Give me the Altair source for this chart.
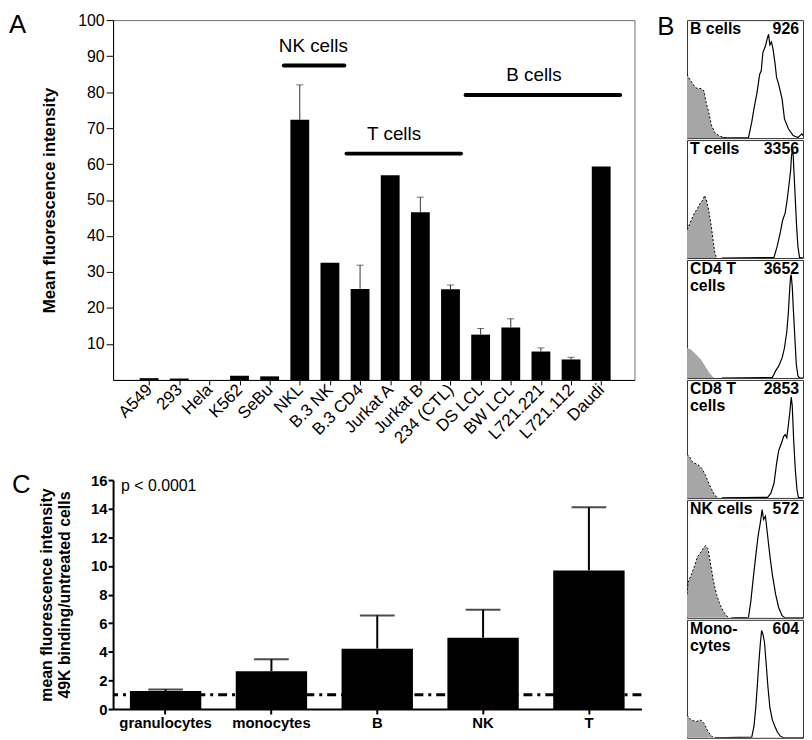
import json
import altair as alt
import pandas as pd

FONT = "Liberation Sans"

# ---------------- Panel A data ----------------
cell_lines = ["A549", "293", "Hela", "K562", "SeBu", "NKL", "B.3 NK", "B.3 CD4",
              "Jurkat A", "Jurkat B", "234 (CTL)", "DS LCL", "BW LCL",
              "L721.221", "L721.112", "Daudi"]
mfi = [0.5, 0.4, 0.0, 1.2, 1.0, 72.3, 32.6, 25.3, 56.9, 46.6, 25.2, 12.6, 14.6, 7.9, 5.7, 59.3]
mfi_err = [None, None, None, None, None, 82.0, None, 31.9, None, 50.8, 26.4, 14.3, 17.0, 8.9, 6.3, None]

group_labels = ["NK cells", "T cells", "B cells"]
group_start = [4.47, 6.55, 10.5]
group_end = [6.48, 10.35, 15.63]
group_level = [87.4, 62.9, 79.2]
group_label_at = [5.45, 8.13, 12.77]

# ---------------- Panel C data ----------------
pop_labels = ["granulocytes", "monocytes", "B", "NK", "T"]
pop_ratio = [1.26, 2.65, 4.22, 4.99, 9.69]
pop_err = [1.37, 3.48, 6.54, 6.94, 14.1]
baseline_ratio = [1.0]
p_text = ["p < 0.0001"]

# ---------------- Panel B data (histograms) ----------------
hist_titles = ["B cells", "T cells", "CD4 T\ncells", "CD8 T\ncells", "NK cells", "Mono-\ncytes"]
hist_mfi = ["926", "3356", "3652", "2853", "572", "604"]
iso_outline = [True, True, False, True, True, True]

iso_x = [
    [0, 2.2, 5, 7, 9, 12, 14.6, 16.5, 18.7, 21, 24, 28, 32, 36],
    [0, 3.6, 6.3, 9, 12, 13.7, 15, 16.5, 18.7, 21, 22.8, 24, 25.5],
    [0, 3.6, 7.7, 12, 14.6, 17.3, 20, 22.8, 24],
    [0, 2.7, 5, 7.7, 10.4, 13, 16, 18.7, 21.4, 24, 27],
    [0, 0.8, 3.6, 6.3, 9, 12, 13.7, 16, 18, 20, 22.8, 25.5, 28.3, 31, 33.8, 36.5],
    [0, 3.6, 7.7, 12, 14.6, 17.3, 20, 22.8],
]
iso_y = [
    [54, 50, 46, 43, 42, 42, 40, 30, 22, 11, 4.5, 1.7, 0.5, 0],
    [24, 32, 38, 42, 47.6, 49, 53, 50, 40.6, 26.6, 12.6, 4.2, 0],
    [25.4, 24, 20, 15.7, 11.6, 7.5, 3.3, 0.5, 0],
    [37, 34, 30, 29, 27.5, 24.8, 19, 12.4, 6.9, 2, 0],
    [20, 29.6, 36.5, 43.4, 51.7, 55.8, 58.6, 61.3, 58.6, 47.5, 31, 19.9, 11.6, 6, 1.9, 0],
    [19.3, 15, 13.8, 15, 12.4, 6.9, 2.8, 0],
]
stain_x = [
    [30, 53, 55.8, 57.7, 60.4, 62.6, 64, 65.4, 67.6, 69, 70.3, 71.4, 72.8, 74.2, 75.8, 77.2, 79, 82, 84, 87.4, 91.5, 95.6, 99, 100],
    [30, 75, 77.7, 80.5, 82.4, 84.6, 86.3, 88, 89.3, 90, 91, 91.5, 92.3, 93.4, 94.5, 95.6, 97, 100],
    [30, 73.6, 76.4, 79, 82, 84, 86, 87.4, 88.5, 89.3, 89.8, 90.7, 91.8, 93, 94.2, 95.6, 97, 100],
    [30, 69.5, 72.3, 75, 77.2, 79, 80.5, 82, 83.2, 84.6, 86, 87.4, 88.7, 89.8, 90.7, 92, 93.4, 94.8, 96, 100],
    [38, 53, 55, 57.1, 59.3, 61.3, 63.2, 64.8, 66, 67.6, 69.5, 71.4, 73.6, 76.4, 79, 82, 84.6, 100],
    [24, 55.8, 57.7, 59.3, 60.7, 62, 63.2, 64.3, 65.4, 66.8, 68.1, 69.8, 71.4, 73.6, 75.8, 78, 80.5, 83.2, 100],
]
stain_y = [
    [0, 0.5, 13.5, 24.7, 38.8, 54, 57, 72.5, 78, 83.7, 88, 79, 81.5, 75, 64, 51.4, 45.8, 33, 16.3, 7.9, 2.2, 0.5, 3.6, 2],
    [0, 0.5, 9.8, 22, 32, 38, 49, 63, 74, 85.7, 92.4, 88, 71, 49, 26.6, 9.8, 0.5, 0],
    [0, 0.5, 6, 10, 17, 25.4, 39, 55.8, 75, 86, 87.6, 78, 55.8, 33.7, 11.6, 1.9, 0, 0],
    [0, 0.5, 4, 12.4, 29, 40, 44, 48, 52, 53.7, 51, 62, 73, 85.4, 78.5, 48, 23.4, 6.9, 0.5, 0],
    [0, 0.5, 14, 33.7, 53, 69.6, 80.7, 91.7, 83.4, 86.2, 69.6, 53, 36.5, 19.9, 8.8, 1.9, 0, 0],
    [0, 0.5, 9.6, 26, 45.5, 64.7, 80, 91, 88, 81, 64.7, 42.7, 26, 15, 9.6, 4.7, 1.4, 0, 0],
]

# ================= Panel A =================
dfA = pd.DataFrame({"idx": list(range(len(cell_lines))), "line": cell_lines,
                    "mfi": mfi, "err": mfi_err})
label_expr = json.dumps(cell_lines) + "[datum.value]"

xA = alt.X("idx:Q",
           scale=alt.Scale(domain=[-1.03, 15.94], nice=False, zero=False),
           axis=alt.Axis(values=list(range(len(cell_lines))), tickCount=40, labelExpr=label_expr,
                         labelAngle=-45, labelAlign="right", labelBaseline="middle",
                         labelFontSize=17, labelPadding=2, tickSize=5, title=None,
                         labelOverlap=False, grid=False))
yA = alt.Y("mfi:Q",
           scale=alt.Scale(domain=[0, 100], nice=False),
           axis=alt.Axis(values=list(range(10, 101, 10)), tickCount=40,
                         title="Mean fluorescence intensity",
                         titleFontSize=17, titleFontWeight="bold", labelFontSize=16,
                         tickSize=7, labelPadding=2, titlePadding=19, grid=False,
                         labelOverlap=False))

barsA = alt.Chart(dfA).mark_bar(color="black", orient="vertical", width=19).encode(x=xA, y=yA)
errA = alt.Chart(dfA).transform_filter("isValid(datum.err)").mark_rule(
    color="#333333", strokeWidth=1).encode(x="idx:Q", y="mfi:Q", y2="err:Q")
capA = alt.Chart(dfA).transform_filter("isValid(datum.err)").mark_tick(
    color="#333333", orient="horizontal", size=7, thickness=1).encode(x="idx:Q", y="err:Q")

dfG = pd.DataFrame({"label": group_labels, "start": group_start, "end": group_end,
                    "level": group_level, "at": group_label_at})
ruleG = alt.Chart(dfG).mark_rule(strokeWidth=4, strokeCap="round", color="black").encode(
    x="start:Q", x2="end:Q", y="level:Q")
textG = alt.Chart(dfG).mark_text(fontSize=19, dy=-20, color="black").encode(
    x="at:Q", y="level:Q", text="label:N")
letterA = alt.Chart(pd.DataFrame({"t": ["A"]})).mark_text(
    fontSize=26, align="left", baseline="top", color="black").encode(
    x=alt.value(-105), y=alt.value(-8), text="t:N")

chartA = alt.layer(barsA, errA, capA, ruleG, textG, letterA).properties(
    width=526, height=363, view=alt.ViewBackground(stroke="#6e6e6e", strokeWidth=1))

# ================= Panel C =================
dfC = pd.DataFrame({"pop": pop_labels, "ratio": pop_ratio, "err": pop_err})
xC = alt.X("pop:N", sort=pop_labels,
           scale=alt.Scale(paddingInner=0.3255, paddingOuter=0.159),
           axis=alt.Axis(title=None, labelAngle=0, labelFontSize=15, labelFontWeight="bold",
                         labelPadding=2, tickSize=5, tickWidth=2, domainWidth=2, grid=False))
yC = alt.Y("ratio:Q", scale=alt.Scale(domain=[0, 16], nice=False),
           axis=alt.Axis(values=list(range(0, 17, 2)), tickCount=40, labelOverlap=False,
                         format="d",
                         title=["mean fluorescence intensity", "49K binding/untreated cells"],
                         titleFontSize=16, titleFontWeight="bold", titleLineHeight=18,
                         labelFontSize=15, labelFontWeight="bold", tickSize=5, tickWidth=2,
                         domainWidth=2, labelPadding=1, titlePadding=18, grid=False))

refC = alt.Chart(pd.DataFrame({"ratio": baseline_ratio})).mark_rule(
    color="black", strokeWidth=3, strokeDash=[9, 5, 3, 5]).encode(y=yC)
barsC = alt.Chart(dfC).mark_bar(color="black").encode(x=xC, y=yC)
errC = alt.Chart(dfC).mark_rule(color="black", strokeWidth=2).encode(
    x=xC, y="ratio:Q", y2="err:Q")
capC = alt.Chart(dfC).mark_tick(color="black", size=35, thickness=2, orient="horizontal").encode(
    x=xC, y="err:Q")
pC = alt.Chart(pd.DataFrame({"t": p_text})).mark_text(
    fontSize=16, align="left", baseline="middle", color="black").encode(
    x=alt.value(8), y=alt.value(6), text="t:N")
letterC = alt.Chart(pd.DataFrame({"t": ["C"]})).mark_text(
    fontSize=26, align="left", baseline="top", color="black").encode(
    x=alt.value(-102), y=alt.value(-8), text="t:N")

chartC = alt.layer(refC, barsC, errC, capC, pC, letterC).properties(
    width=533, height=231, view=alt.ViewBackground(stroke="transparent"))

# ================= Panel B =================
BOX_W = 117
BOX_H = 119
hist_charts = []
for i in range(len(hist_titles)):
    iso = pd.DataFrame({"ch": iso_x[i], "cnt": iso_y[i]})
    stn = pd.DataFrame({"ch": stain_x[i], "cnt": stain_y[i]})
    xs = alt.X("ch:Q", scale=alt.Scale(domain=[0, 100], nice=False, zero=False), axis=None)
    ys = alt.Y("cnt:Q", scale=alt.Scale(domain=[0, 100], nice=False), axis=None)
    layers = [alt.Chart(iso).mark_area(color="#a6a6a6", clip=True).encode(x=xs, y=ys)]
    if iso_outline[i]:
        layers.append(alt.Chart(iso).mark_line(color="black", strokeDash=[2, 2], strokeWidth=1,
                                               clip=True).encode(x=xs, y=ys))
    layers.append(alt.Chart(stn).mark_line(color="black", strokeWidth=1.2, clip=True).encode(x=xs, y=ys))
    lab = pd.DataFrame({"name": [hist_titles[i]], "mfi": [hist_mfi[i]]})
    layers.append(alt.Chart(lab).mark_text(align="left", baseline="top", fontSize=16,
                                           fontWeight="bold", lineBreak="\n", lineHeight=17,
                                           color="black").encode(
        x=alt.value(3), y=alt.value(1), text="name:N"))
    layers.append(alt.Chart(lab).mark_text(align="right", baseline="top", fontSize=16,
                                           fontWeight="bold", color="black").encode(
        x=alt.value(BOX_W - 4), y=alt.value(1), text="mfi:N"))
    if i == 0:
        layers.append(alt.Chart(pd.DataFrame({"t": ["B"]})).mark_text(
            fontSize=26, align="left", baseline="top", color="black").encode(
            x=alt.value(-30), y=alt.value(-6), text="t:N"))
    hist_charts.append(alt.layer(*layers).properties(
        width=BOX_W, height=BOX_H, view=alt.ViewBackground(stroke="#333333", strokeWidth=1)))

left = alt.vconcat(chartA, chartC, spacing=24)
right = alt.vconcat(*hist_charts, spacing=0)

chart = alt.hconcat(left, right, spacing=13).properties(padding=0).configure(
    font=FONT).configure_axis(labelColor="black", titleColor="black", domainColor="black",
                              tickColor="black", labelFont=FONT, titleFont=FONT)

chart.save("out.html", embed_options={"renderer": "svg", "actions": False})
